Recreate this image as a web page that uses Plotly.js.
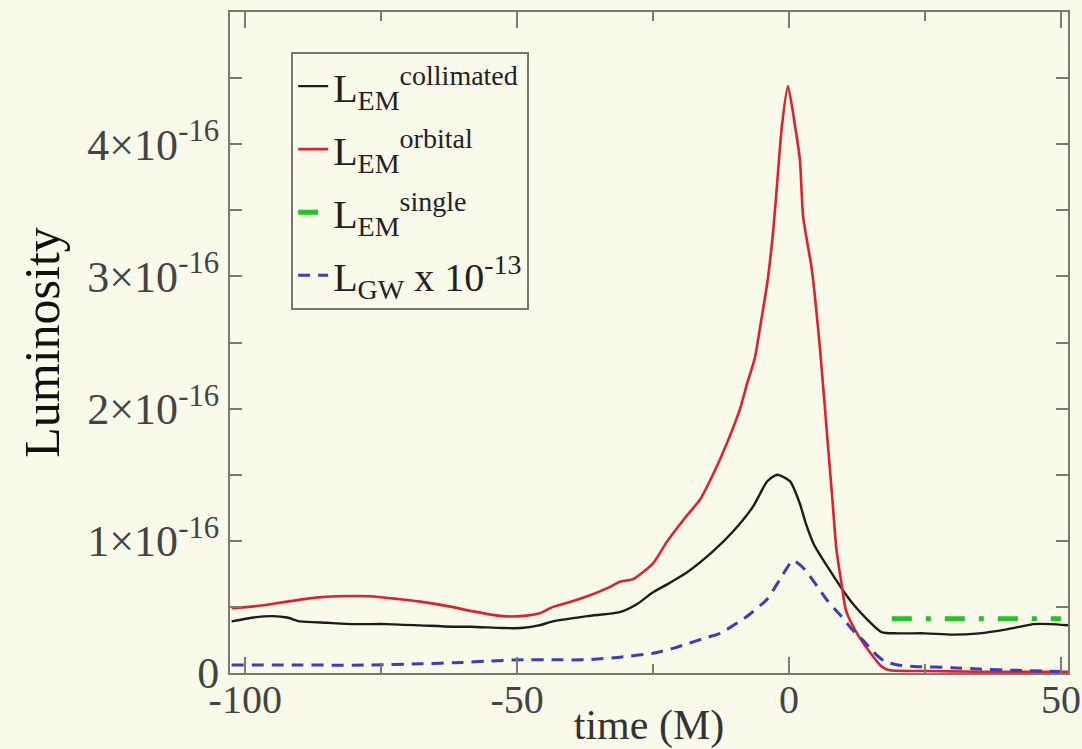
<!DOCTYPE html>
<html>
<head>
<meta charset="utf-8">
<script src="https://cdn.plot.ly/plotly-3.0.1.min.js"></script>
<style>
  html, body { margin: 0; padding: 0; background: #fafaeb; }
  #chart { width: 1082px; height: 749px; }
</style>
</head>
<body>
<div id="chart"></div>
<script>
// ---- Data (luminosity in units of 1e-16, time in M) ----
const scale = 1e-16;

const timeCollimated = [-102.5, -98.5, -94.9, -92.3, -89.9, -85, -80, -74, -67.8, -62, -58.6, -52.6, -49.4, -46, -43.4, -37.1, -31.1, -28, -25, -22, -18.8, -14, -10.3, -6.6, -4, -2.2, 0.2, 2, 3.1, 4.6, 6.5, 8.4, 10, 12, 14.5, 17, 20, 25, 30, 35, 40, 45, 48, 51.5];
const lumCollimated  = [0.39, 0.42, 0.43, 0.42, 0.39, 0.38, 0.37, 0.37, 0.36, 0.35, 0.35, 0.34, 0.34, 0.36, 0.39, 0.43, 0.46, 0.52, 0.61, 0.68, 0.76, 0.92, 1.07, 1.26, 1.45, 1.50, 1.45, 1.28, 1.13, 0.97, 0.84, 0.72, 0.62, 0.51, 0.40, 0.31, 0.30, 0.30, 0.29, 0.30, 0.33, 0.37, 0.37, 0.36];

const timeOrbital = [-102.5, -97, -92.3, -87, -83, -77, -72, -67.8, -62, -58.6, -52.6, -49.4, -46, -43.4, -40, -37.1, -33, -31.1, -28.7, -25, -22.5, -19, -16.4, -14, -11.4, -9, -7.7, -6.3, -5.3, -4, -2.9, -2.0, -1.3, -0.2, 1.1, 2.0, 2.6, 4.2, 5.7, 7.2, 8.0, 8.7, 9.6, 10.5, 12.5, 15, 17, 18.5, 25, 35, 45, 51.5];
const lumOrbital  = [0.49, 0.51, 0.54, 0.57, 0.58, 0.58, 0.56, 0.54, 0.50, 0.47, 0.43, 0.43, 0.45, 0.50, 0.54, 0.58, 0.65, 0.69, 0.71, 0.83, 0.99, 1.18, 1.31, 1.50, 1.74, 2.00, 2.19, 2.38, 2.62, 2.95, 3.35, 3.80, 4.14, 4.44, 4.14, 3.88, 3.45, 3.05, 2.45, 1.70, 1.30, 0.94, 0.69, 0.47, 0.30, 0.15, 0.05, 0.02, 0.015, 0.01, 0.01, 0.01];

const timeSingle = [18.9, 50];
const lumSingle  = [0.41, 0.41];

const timeGW = [-102.5, -90, -77, -67.8, -60, -55.5, -49.4, -43, -37.1, -31.1, -25, -21, -18.8, -15, -12.7, -8, -4, -1.5, 0.7, 2.5, 4.6, 7, 9.6, 12, 13.8, 15.5, 17.5, 20, 23, 30, 35, 42, 51.5];
const lumGW  = [0.06, 0.06, 0.06, 0.07, 0.08, 0.09, 0.10, 0.10, 0.10, 0.12, 0.15, 0.19, 0.22, 0.27, 0.30, 0.42, 0.56, 0.72, 0.85, 0.80, 0.69, 0.55, 0.43, 0.31, 0.24, 0.16, 0.09, 0.06, 0.05, 0.04, 0.03, 0.02, 0.01];

const xTickVals = [-100, -50, 0, 50];
const xTickText = ['-100', '-50', '0', '50'];
const yTickVals = [0, 1, 2, 3, 4];
const yTickText = ['0', '1×10<sup>-16</sup>', '2×10<sup>-16</sup>', '3×10<sup>-16</sup>', '4×10<sup>-16</sup>'];

const names = [
  'L<sub>EM</sub><sup>collimated</sup>',
  'L<sub>EM</sub><sup>orbital</sup>',
  'L<sub>EM</sub><sup>single</sup>',
  'L<sub>GW</sub> x 10<sup>-13</sup>'
];

const toLum = arr => arr.map(v => v * scale);

const traces = [
  { x: timeCollimated, y: toLum(lumCollimated), name: names[0], legendgroup: 'a', mode: 'lines',
    line: { color: '#1c1c1c', width: 2.4, shape: 'spline', smoothing: 0.6 } },
  { x: timeOrbital, y: toLum(lumOrbital), name: names[1], legendgroup: 'b', mode: 'lines',
    line: { color: '#e0202c', width: 2.6, shape: 'spline', smoothing: 0.6 } },
  { x: timeSingle, y: toLum(lumSingle), name: names[2], legendgroup: 'c', mode: 'lines',
    line: { color: '#22c322', width: 5, dash: '20px,14px,5px,14px' } },
  { x: timeGW, y: toLum(lumGW), name: names[3], legendgroup: 'd', mode: 'lines',
    line: { color: '#3c3cc0', width: 3, dash: '12px,8px', shape: 'spline', smoothing: 0.6 } }
];

const serif = 'Liberation Serif, Times New Roman, serif';
const axisColor = '#7a7a72';

const layout = {
  width: 1082, height: 749,
  paper_bgcolor: '#fafaeb',
  plot_bgcolor: '#fafaeb',
  margin: { l: 230, r: 14, t: 12, b: 76 },
  showlegend: true,
  legend: {
    x: 0.073, y: 0.94, xanchor: 'left', yanchor: 'top',
    bgcolor: 'rgba(0,0,0,0)', bordercolor: '#77776f', borderwidth: 2,
    font: { family: serif, size: 40, color: '#222' },
    tracegroupgap: 8
  },
  xaxis: {
    range: [-102.8, 51.3],
    tickmode: 'array', tickvals: xTickVals, ticktext: xTickText,
    ticks: 'inside', ticklen: 16, tickwidth: 2, tickcolor: axisColor,
    minor: { tickmode: 'array', tickvals: [-75, -25, 25], ticks: 'inside', ticklen: 9, tickwidth: 2, tickcolor: axisColor },
    showline: true, linecolor: axisColor, linewidth: 2, mirror: 'ticks',
    showgrid: false, zeroline: false,
    ticklabelstandoff: -10,
    tickfont: { family: serif, size: 40, color: '#444' },
    title: { text: 'time (M)', font: { family: serif, size: 42, color: '#333' }, standoff: 12 }
  },
  yaxis: {
    range: [0, 5e-16],
    tickmode: 'array', tickvals: yTickVals.map(v => v * scale), ticktext: yTickText,
    ticks: 'inside', ticklen: 12, tickwidth: 2, tickcolor: axisColor,
    minor: { tickmode: 'array', tickvals: [0.5, 1.5, 2.5, 3.5, 4.5].map(v => v * scale), ticks: 'inside', ticklen: 12, tickwidth: 2, tickcolor: axisColor },
    showline: true, linecolor: axisColor, linewidth: 2, mirror: 'ticks',
    showgrid: false, zeroline: false,
    tickfont: { family: serif, size: 44, color: '#444' },
    title: { text: 'Luminosity', font: { family: serif, size: 50, color: '#111' }, standoff: 12 }
  }
};

Plotly.newPlot('chart', traces, layout, { staticPlot: true, displayModeBar: false });
</script>
</body>
</html>
